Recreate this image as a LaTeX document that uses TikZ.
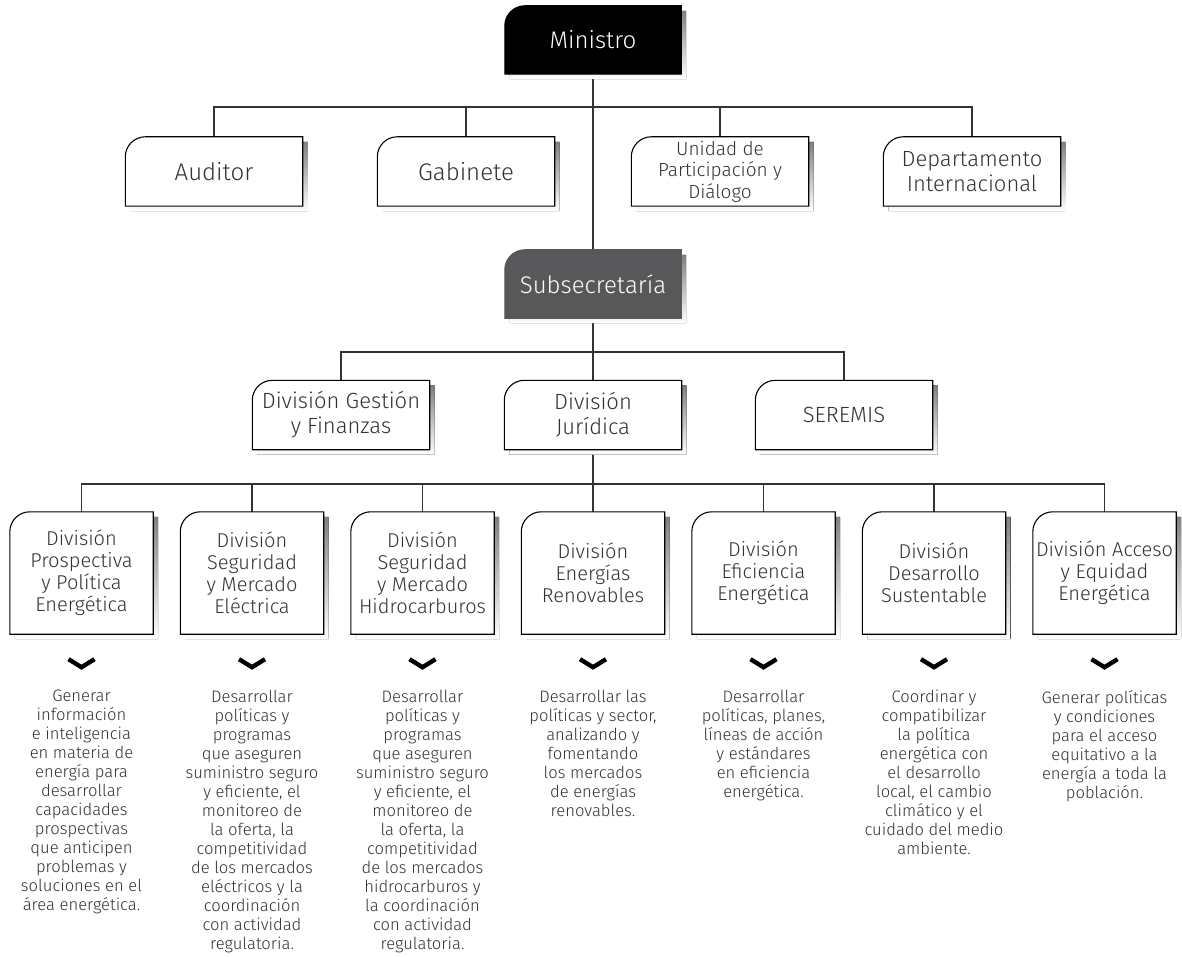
\documentclass[tikz,border=0pt]{standalone}
\usepackage{fontspec}
\setmainfont{Fira Sans Light}
\usetikzlibrary{backgrounds}

\definecolor{ink}{HTML}{333333}
\definecolor{shade}{HTML}{D4D4D4}
\definecolor{subfill}{HTML}{58585A}

\tikzset{
  unit/.style={align=center, inner sep=0pt, text=ink},
  topbox/.style={unit, minimum width=176pt, minimum height=68pt, font=\fontsize{24}{28}\selectfont},
  midbox/.style={unit, minimum width=177pt, minimum height=69pt, font=\fontsize{22}{25}\selectfont},
  divbox/.style={unit, minimum width=143pt, minimum height=122pt, font=\fontsize{20}{22}\selectfont},
  desc/.style={align=center, inner sep=0pt, text=ink, anchor=north, font=\fontsize{16.6}{19}\selectfont},
  link/.style={draw=ink, line width=1.4pt},
  chev/.style={draw=black, line width=4.4pt, line join=miter},
  frame/.style={draw=black, line width=1.1pt},
}

% box outline: rounded top-left corner, soft drop shadow
\newcommand\orgframe[3]{%
  \fill[shade, rounded corners=20pt]
    ([shift={(5pt,-5pt)}]#1.south west) -- ([shift={(5pt,-5pt)}]#1.north west)
    [sharp corners] -- ([shift={(5pt,-5pt)}]#1.north east) -- ([shift={(5pt,-5pt)}]#1.south east) -- cycle;
  \draw[frame, draw=#3, fill=#2] (#1.south west) [rounded corners=20pt] -- (#1.north west)
    [sharp corners] -- (#1.north east) -- (#1.south east) -- cycle;
}
\newcommand\chevron[1]{%
  \draw[chev] ([shift={(-13pt,-25pt)}]#1.south) -- ([shift={(0pt,-33pt)}]#1.south) -- ([shift={(13pt,-25pt)}]#1.south);
}

\begin{document}
\begin{tikzpicture}[x=1pt, y=-1pt]
\useasboundingbox (0,0) rectangle (1182,957);

% top levels
\node[topbox, text=white] (mi) at (593,40) {Ministro};
\node[midbox, font=\fontsize{24}{28}\selectfont] (au) at (214,171.5) {Auditor};
\node[midbox, font=\fontsize{24}{28}\selectfont] (gab) at (466,171.5) {Gabinete};
\node[midbox, font=\fontsize{19}{21.5}\selectfont] (ud) at (720,171.5) {Unidad de\\Participación y\\Diálogo};
\node[midbox] (dep) at (972,171.5) {Departamento\\Internacional};
\node[topbox, text=white] (sub) at (593,284) {Subsecretaría};

% second level
\node[midbox] (dg) at (341,415) {División Gestión\\y Finanzas};
\node[midbox] (dj) at (593,415) {División\\Jurídica};
\node[midbox] (se) at (844,415) {SEREMIS};

% divisions
\node[divbox] (d1) at (81.5,573) {División\\Prospectiva\\y Política\\Energética};
\node[divbox] (d2) at (252,573) {División\\Seguridad\\y Mercado\\Eléctrica};
\node[divbox] (d3) at (422.5,573) {División\\Seguridad\\y Mercado\\Hidrocarburos};
\node[divbox] (d4) at (593,573) {División\\Energías\\Renovables};
\node[divbox] (d5) at (763.5,573) {División\\Eficiencia\\Energética};
\node[divbox] (d6) at (934,573) {División\\Desarrollo\\Sustentable};
\node[divbox] (d7) at (1104.5,573) {División Acceso\\y Equidad\\Energética};

% descriptions
\node[desc] (t1) at (81.5,690) {Generar\\información\\e inteligencia\\en materia de\\energía para\\desarrollar\\capacidades\\prospectivas\\que anticipen\\problemas y\\soluciones en el\\área energética.};
\node[desc] (t2) at (252,690) {Desarrollar\\políticas y\\programas\\que aseguren\\suministro seguro\\y eficiente, el\\monitoreo de\\la oferta, la\\competitividad\\de los mercados\\eléctricos y la\\coordinación\\con actividad\\regulatoria.};
\node[desc] (t3) at (422.5,690) {Desarrollar\\políticas y\\programas\\que aseguren\\suministro seguro\\y eficiente, el\\monitoreo de\\la oferta, la\\competitividad\\de los mercados\\hidrocarburos y\\la coordinación\\con actividad\\regulatoria.};
\node[desc] (t4) at (593,690) {Desarrollar las\\políticas y sector,\\analizando y\\fomentando\\los mercados\\de energías\\renovables.};
\node[desc] (t5) at (763.5,690) {Desarrollar\\políticas, planes,\\líneas de acción\\y estándares\\en eficiencia\\energética.};
\node[desc] (t6) at (934,690) {Coordinar y\\compatibilizar\\la política\\energética con\\el desarrollo\\local, el cambio\\climático y el\\cuidado del medio\\ambiente.};
\node[desc] (t7) at (1104.5,690) {Generar políticas\\y condiciones\\para el acceso\\equitativo a la\\energía a toda la\\población.};

\coordinate (b1) at (593,107);
\coordinate (b2) at (593,352);
\coordinate (b3) at (593,484);

\begin{pgfonlayer}{background}
  % connectors
  \draw[link] (mi.south) -- (sub.north);
  \draw[link] (au.north) -- (au.north |- b1) -- (dep.north |- b1) -- (dep.north);
  \draw[link] (gab.north |- b1) -- (gab.north);
  \draw[link] (ud.north |- b1) -- (ud.north);
  \draw[link] (sub.south) -- (dj.north);
  \draw[link] (dg.north) -- (dg.north |- b2) -- (se.north |- b2) -- (se.north);
  \draw[link] (dj.south) -- (d4.north);
  \draw[link] (d1.north) -- (d1.north |- b3) -- (d7.north |- b3) -- (d7.north);
  \foreach \n in {d2,d3,d5,d6} { \draw[link] (\n.north |- b3) -- (\n.north); }
  % boxes
  \orgframe{mi}{black}{black}
  \orgframe{sub}{subfill}{subfill}
  \foreach \n in {au,gab,ud,dep,dg,dj,se,d1,d2,d3,d4,d5,d6,d7} { \orgframe{\n}{white}{black} }
\end{pgfonlayer}

% chevrons under the divisions
\foreach \n in {d1,d2,d3,d4,d5,d6,d7} { \chevron{\n} }
\end{tikzpicture}
\end{document}
